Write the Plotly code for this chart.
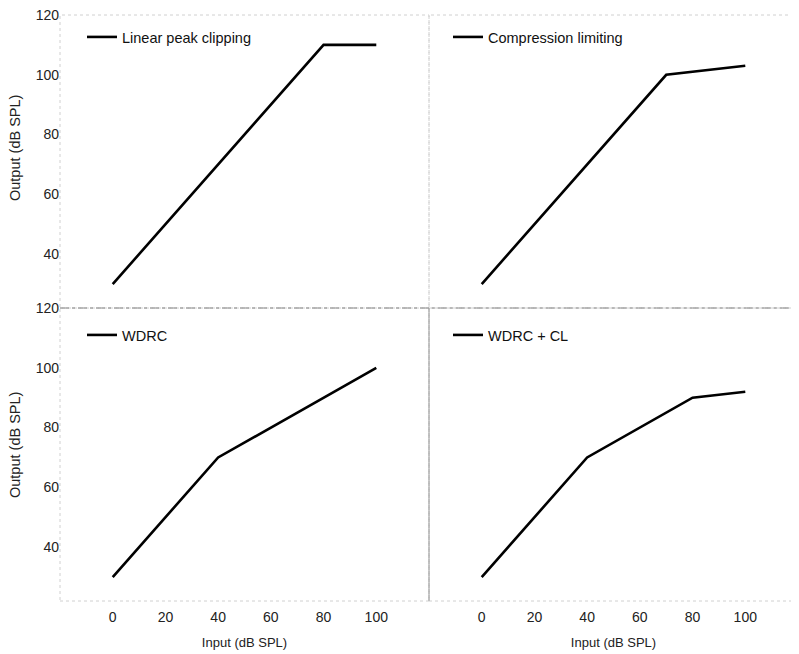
import plotly.graph_objects as go
from plotly.subplots import make_subplots

# Curvas de entrada/salida (dB SPL)
entrada_lpc = [0, 80, 100]
salida_lpc = [30, 110, 110]

entrada_cl = [0, 70, 100]
salida_cl = [30, 100, 103]

entrada_wdrc = [0, 40, 100]
salida_wdrc = [30, 70, 100]

entrada_wdrc_cl = [0, 40, 80, 100]
salida_wdrc_cl = [30, 70, 90, 92]

nombres = ["Linear peak clipping", "Compression limiting", "WDRC", "WDRC + CL"]
ticks_x = [0, 20, 40, 60, 80, 100]
ticks_y = [40, 60, 80, 100, 120]

ANCHO, ALTO = 799, 654
OFF = 8  # margen del body en la página
IZQ, DER, ARR, ABA = 60, 798, 15, 601  # área de trazado en pantalla
FUENTE = "Liberation Sans, Arial, sans-serif"


def px_x(p):
    return (p - IZQ) / (DER - IZQ)


def px_y(p):
    return (ABA - p) / (ABA - ARR)


fig = make_subplots(rows=2, cols=2, horizontal_spacing=0, vertical_spacing=0)

series = [
    (entrada_lpc, salida_lpc, 1, 1, "legend"),
    (entrada_cl, salida_cl, 1, 2, "legend2"),
    (entrada_wdrc, salida_wdrc, 2, 1, "legend3"),
    (entrada_wdrc_cl, salida_wdrc_cl, 2, 2, "legend4"),
]
for (xs, ys, fila, col, ley), nombre in zip(series, nombres):
    fig.add_trace(
        go.Scatter(x=xs, y=ys, mode="lines", name=nombre, legend=ley,
                   line=dict(color="black", width=2.6)),
        row=fila, col=col,
    )

fig.update_xaxes(range=[-20, 120], showgrid=False, zeroline=False, showline=False,
                 tickvals=ticks_x, ticks="", showticklabels=False, automargin=False,
                 tickfont=dict(size=14, color="#222"))
fig.update_yaxes(range=[22, 120], showgrid=False, zeroline=False, showline=False,
                 tickvals=ticks_y, ticks="", showticklabels=False, automargin=False,
                 ticklabeloverflow="allow", tickfont=dict(size=14, color="#222"))
for c in (1, 2):
    fig.update_xaxes(showticklabels=True, ticklabelstandoff=6, row=2, col=c,
                     title=dict(text="Input (dB SPL)", standoff=13,
                                font=dict(size=13, color="#222")))
for r in (1, 2):
    fig.update_yaxes(showticklabels=True, row=r, col=1)

# marcos punteados de cada panel
for i in range(1, 5):
    sx = "x" if i == 1 else f"x{i}"
    sy = "y" if i == 1 else f"y{i}"
    fig.add_shape(type="rect", xref=f"{sx} domain", yref=f"{sy} domain",
                  x0=0, x1=1, y0=0, y1=1,
                  line=dict(color="#d0d0d0", width=1, dash="dot"))
fig.add_shape(type="line", xref="paper", yref="paper", x0=0, x1=1, y0=0.5, y1=0.5,
              line=dict(color="#8a8a8a", width=1, dash="dashdot"))
fig.add_shape(type="line", xref="paper", yref="paper", x0=0.5, x1=0.5, y0=0, y1=0.5,
              line=dict(color="#9a9a9a", width=1))

# títulos del eje y
for yc in (px_y(148), px_y(445)):
    fig.add_annotation(text="Output (dB SPL)", xref="paper", yref="paper",
                       x=px_x(15), y=yc, textangle=-90, showarrow=False,
                       xanchor="center", yanchor="middle",
                       font=dict(size=14.5, color="#222"))

leyenda = dict(bgcolor="rgba(0,0,0,0)", borderwidth=0, xanchor="left", yanchor="top",
               font=dict(size=14.5, color="#111"), itemwidth=30)
fig.update_layout(
    legend=dict(leyenda, x=px_x(82), y=px_y(21)),
    legend2=dict(leyenda, x=px_x(448), y=px_y(21)),
    legend3=dict(leyenda, x=px_x(82), y=px_y(319)),
    legend4=dict(leyenda, x=px_x(448), y=px_y(319)),
)

fig.update_layout(
    width=ANCHO, height=ALTO,
    margin=dict(l=IZQ - OFF, r=ANCHO + OFF - DER, t=ARR - OFF, b=ALTO + OFF - ABA),
    paper_bgcolor="white", plot_bgcolor="white",
    font=dict(family=FUENTE, size=14, color="#222"),
    showlegend=True,
)

fig.write_html("out.html")
